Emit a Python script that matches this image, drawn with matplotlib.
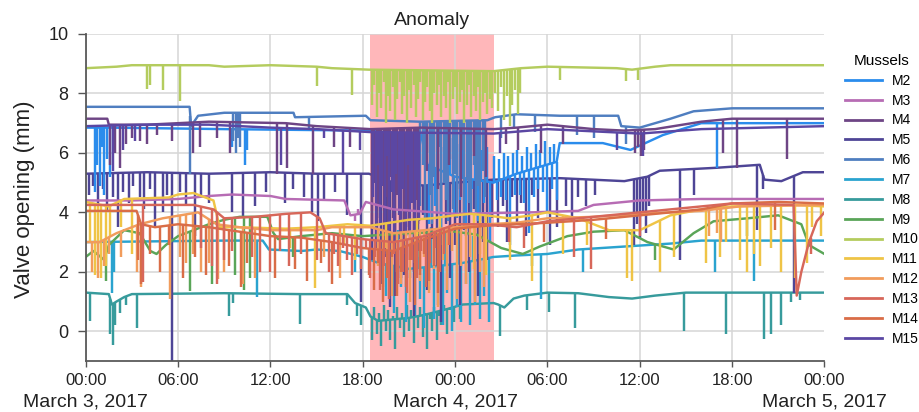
import numpy as np
import matplotlib
matplotlib.use("Agg")
import matplotlib.pyplot as plt
from matplotlib.lines import Line2D
from matplotlib.transforms import blended_transform_factory

plt.rcParams['font.family'] = ['Liberation Sans', 'DejaVu Sans']

# hours since March 3, 2017 00:00 -> valve opening (mm)
# "line" = slowly varying trace, "dips" = short closures / excursions (hour, value)
m2_line = [(0, 6.85), (1.6, 6.85), (9, 6.8), (18.3, 6.75), (21.8, 6.6), (22.2, 5.6), (24, 5.2),
           (26.5, 5.0), (28, 5.3), (30.6, 5.7), (30.8, 6.33), (33.6, 6.33), (35.4, 6.1),
           (37.5, 6.6), (40, 7.0), (48, 7.0)]
m2_dips = [(0.6, 4.7), (0.75, 5.6), (0.9, 4.9), (1.05, 6.2), (1.2, 4.6), (1.4, 5.8), (1.55, 5.2),
           (9.5, 6.2), (10.35, 5.6), (10.5, 6.1),
           (22.3, 3.6), (22.5, 6.4), (22.7, 4.2), (22.9, 6.6), (23.1, 3.4), (23.3, 6.2), (23.5, 4.6),
           (23.7, 6.5), (23.9, 3.9), (24.1, 6.3), (24.3, 4.4), (24.5, 6.6), (24.7, 3.2), (24.9, 6.0),
           (25.1, 4.8), (25.3, 6.4), (25.5, 3.7), (25.7, 6.1), (25.9, 4.3), (26.1, 6.2), (26.3, 3.0),
           (26.5, 5.9), (26.7, 4.4), (26.85, 5.8), (27.0, 4.5), (27.15, 6.0), (27.3, 4.4), (27.45, 5.9),
           (27.6, 2.9), (27.75, 6.0), (27.9, 4.6), (28.05, 6.1), (28.2, 4.6), (28.35, 5.9), (28.5, 4.3),
           (28.65, 6.2), (28.8, 3.3), (28.95, 6.0), (29.1, 4.5), (29.25, 6.3), (29.4, 4.8), (29.55, 6.1),
           (29.7, 4.7), (29.85, 6.4), (30.0, 4.0), (30.15, 6.2), (30.3, 4.8), (30.45, 6.3), (30.6, 4.4),
           (41.0, 5.5)]

m3_line = [(0, 4.4), (3, 4.4), (6, 4.45), (8, 4.55), (9.5, 4.6), (12, 4.55), (13, 4.45), (16.8, 4.4),
           (17.2, 3.9), (17.8, 3.95), (18.2, 4.35), (20, 4.1), (24, 3.95), (29, 4.0), (32, 4.05),
           (33, 4.25), (36, 4.4), (40, 4.45), (48, 4.45)]
m3_dips = [(17.5, 3.7), (17.7, 4.1)]

m4_line = [(0, 7.15), (1.4, 7.15), (1.5, 6.95), (4, 6.95), (8, 7.05), (13, 7.0), (15, 6.9),
           (18.5, 6.8), (21.8, 6.85), (26.5, 6.8), (28, 6.85), (30, 6.95), (33, 6.8), (35, 6.75),
           (37, 6.8), (40, 7.05), (42, 7.15), (48, 7.15)]
m4_dips = [(1.6, 5.6), (1.9, 6.0), (2.2, 5.5), (2.6, 6.3), (3.0, 6.5), (3.5, 6.4), (4.0, 6.3),
           (4.6, 6.6), (5.6, 6.4), (7.0, 6.0), (7.4, 6.2), (8.5, 6.5), (9.4, 6.0), (12.4, 5.3),
           (13.1, 5.5), (14.8, 5.3), (16.1, 6.2), (17.2, 6.2),
           (18.6, 3.5), (18.75, 5.0), (18.9, 2.8), (19.05, 4.2), (19.2, 6.0), (19.35, 3.0), (19.5, 4.5),
           (19.65, 2.2), (19.8, 5.2), (19.95, 3.8), (20.1, 1.2), (20.25, 4.6), (20.4, 3.1), (20.55, 5.5),
           (20.7, 2.6), (20.85, 4.0), (21.0, 3.3), (21.15, 5.8), (21.3, 2.0), (21.45, 4.4), (21.6, 3.6),
           (22.2, 5.4), (22.9, 4.8), (23.6, 5.6), (24.4, 4.5), (25.2, 5.9), (26.0, 5.2),
           (27.3, 6.3), (28.1, 6.1), (29.6, 6.0), (31.0, 6.3), (35.7, 6.0), (35.9, 6.2), (36.1, 5.9),
           (36.3, 6.1), (41.4, 6.0), (42.3, 5.5), (45.6, 5.8)]

m5_line = [(0, 5.3), (4, 5.35), (8, 5.3), (12, 5.35), (15, 5.3), (18.4, 5.3), (20, 5.0), (22, 4.9),
           (24, 5.0), (26.5, 5.1), (30.8, 5.15), (35, 5.05), (36.5, 5.2), (37.3, 5.4), (41, 5.5),
           (43.8, 5.6), (44.1, 5.1), (45.2, 5.05), (46.6, 5.35), (48, 5.35)]
m5_dips = [(0.2, 4.6), (0.5, 4.9), (0.8, 4.2), (1.1, 4.8), (1.4, 4.0), (1.8, 4.5), (2.1, 3.5),
           (2.4, 4.7), (2.8, 4.3), (3.1, 4.9), (3.5, 4.5), (3.8, 4.1), (4.2, 4.8), (4.5, 3.5), (5.0, 4.0),
           (5.3, 4.6), (5.6, -1.2), (6.1, 4.7), (6.5, 4.2), (7.1, 3.2), (7.5, 4.6), (8.0, 4.3), (9.5, 4.0),
           (10.2, 3.8), (11.0, 4.2), (11.7, 4.7), (12.95, 4.3), (13.5, 4.8), (14.2, 4.5), (14.7, 4.0),
           (15.1, 3.7), (15.5, 4.4), (16.2, 4.7), (17.0, 3.9), (17.9, 1.0),
           (18.6, 2.4), (18.9, 3.8), (19.2, 1.6), (19.5, 3.3), (19.8, 0.8), (20.1, 2.9), (20.4, 4.0),
           (20.7, 1.9), (21.0, 3.5), (21.3, 0.5), (21.6, 2.7), (21.9, 3.9), (22.2, 1.4), (22.5, 3.1),
           (22.8, 2.2), (23.1, 0.3), (23.4, 3.6), (23.7, 1.8), (24.0, 2.9), (24.3, 0.9), (24.6, 3.4),
           (24.9, 2.0), (25.2, 4.1), (25.5, 1.2), (25.8, 3.0), (26.1, 2.4), (26.4, 3.8),
           (26.8, 3.5), (27.1, 4.2), (27.4, 3.0), (27.7, 4.5), (28.0, 3.6), (28.3, 4.3), (28.6, 3.2),
           (29.0, 4.6), (29.4, 3.8), (30.2, 2.9), (30.6, 3.5), (31.2, 4.2), (31.6, 3.8), (32.0, 4.5),
           (32.5, 4.2), (33.1, 4.6), (35.6, 2.9), (35.8, 3.6), (36.0, 3.1), (36.2, 3.9), (36.4, 3.3),
           (36.6, 4.2), (38.6, 2.4), (39.5, 4.6), (43.6, 3.4), (44.0, 4.8), (46.0, 1.3)]

m6_line = [(0, 7.55), (6.75, 7.55), (6.85, 6.9), (7.3, 7.25), (9, 7.35), (13.5, 7.35), (13.6, 7.2),
           (18.2, 7.25), (18.5, 7.1), (21.7, 7.05), (26.1, 7.1), (26.6, 7.2), (28, 7.3), (30.8, 7.25),
           (34.6, 7.25), (34.8, 6.9), (36, 6.85), (38, 7.15), (39.5, 7.4), (42, 7.5), (48, 7.5)]
m6_dips = [(6.8, 5.3), (9.6, 6.4), (9.75, 6.0), (9.9, 6.5), (10.05, 6.2), (14.5, 6.8),
           (21.75, 4.2), (21.9, 5.6), (22.05, 3.8), (22.2, 6.0), (22.35, 4.6), (22.5, 3.6), (22.65, 5.2),
           (22.8, 4.0), (22.95, 6.2), (23.1, 3.9), (23.25, 5.0), (23.4, 4.4), (23.55, 3.7), (23.7, 5.8),
           (23.85, 4.1), (24.0, 5.3), (24.15, 3.8), (24.3, 4.8), (24.45, 6.1), (24.6, 3.6), (24.75, 5.1),
           (24.9, 4.3), (25.05, 3.9), (25.2, 5.6), (25.35, 4.0), (25.5, 4.9), (25.65, 3.7), (25.8, 5.4),
           (25.95, 4.5),
           (27.0, 6.5), (27.8, 6.8), (29.2, 6.7), (31.9, 6.6), (33.0, 6.5), (35.1, 6.3)]

m7_line = [(0, 3.0), (9, 3.05), (11.5, 3.05), (11.9, 2.75), (14, 2.7), (15, 2.75), (16.5, 2.7),
           (18, 2.5), (19, 2.3), (21, 2.1), (23, 2.2), (24.5, 2.3), (26.5, 2.5), (28, 2.55), (30, 2.6),
           (32, 2.75), (35, 2.85), (38, 2.95), (40, 3.05), (48, 3.05)]
m7_dips = [(1.7, 1.3), (1.85, 2.0), (11.1, 1.15), (17.5, 2.0),
           (19.5, 1.2), (20.0, 0.6), (20.3, 3.4), (20.5, 1.5), (20.8, 0.3), (21.1, 1.8), (21.4, 0.5),
           (21.6, 3.2), (21.7, 1.1), (22.0, 0.1), (22.3, 1.4), (22.45, 3.5), (22.6, 0.4), (22.9, 0.9),
           (23.2, 0.2), (23.35, 3.3), (23.5, 1.3), (23.8, 0.0), (24.1, 0.8), (24.25, 3.6), (24.4, 0.3),
           (24.7, 1.6), (25.0, 0.2), (25.15, 3.2), (25.3, 0.9), (25.6, 0.4), (25.9, 1.2), (26.2, 0.3),
           (29.6, 1.1), (32.3, 2.0), (40.9, 2.0), (43.4, 1.7)]

m8_line = [(0, 1.3), (1.5, 1.25), (1.7, 0.9), (2.0, 1.0), (2.5, 1.15), (3.0, 1.25), (9, 1.28),
           (14, 1.25), (17, 1.25), (17.5, 0.95), (18.2, 0.8), (18.5, 0.5), (19, 0.35), (21, 0.45),
           (22, 0.55), (23.5, 0.75), (24.5, 0.9), (26.5, 0.95), (26.8, 0.9), (27.2, 0.8), (27.8, 1.1),
           (28.5, 1.2), (30, 1.3), (32, 1.28), (34, 1.15), (35.5, 1.1), (37, 1.2), (39, 1.3), (48, 1.3)]
m8_dips = [(0.3, 0.35), (1.6, -0.1), (1.75, -0.45), (1.9, 0.2), (2.2, 0.6), (2.6, 0.9), (3.3, 0.1),
           (9.3, 0.5), (9.6, 0.95), (13.9, 0.25), (17.0, 0.9), (17.6, 0.5), (17.9, 0.2),
           (18.6, -0.3), (18.75, 0.8), (18.9, -0.1), (19.05, 0.6), (19.2, -0.5), (19.35, 0.9),
           (19.5, 0.0), (19.65, 0.7), (19.8, -0.3), (19.95, 0.5), (20.1, -0.6), (20.25, 0.8),
           (20.4, 0.1), (20.55, 0.6), (20.7, -0.2), (20.85, 0.9), (21.0, 0.0), (21.15, 0.7),
           (21.3, -0.4), (21.45, 0.5), (21.6, 0.1), (21.75, 0.8), (21.9, -0.2), (22.05, 0.6),
           (22.2, -0.6), (22.35, 0.4), (22.5, 0.0), (22.65, 0.8), (22.8, -0.3), (22.95, 0.5),
           (23.1, 0.2), (23.3, 0.9), (23.5, -0.1), (23.7, 0.7), (23.9, 0.3), (24.1, 0.9), (24.3, 0.4),
           (26.9, -0.15), (28.7, 0.7), (30.1, 0.65), (31.8, 0.1), (38.9, 0.0), (41.6, -0.1),
           (44.1, -0.25), (44.5, -0.1), (45.2, 0.2), (45.8, 1.0), (46.4, 1.05)]

m9_line = [(0, 2.5), (0.5, 2.7), (1.2, 2.4), (1.5, 2.9), (2.5, 3.4), (3.5, 3.3), (4.2, 2.7),
           (4.6, 2.6), (5.2, 2.9), (6, 3.2), (7, 3.4), (8, 3.6), (9, 3.75), (10, 3.85), (11.8, 3.85),
           (12.2, 3.3), (12.5, 3.1), (14, 3.2), (16, 3.3), (18, 3.2), (21, 3.3), (24, 3.35),
           (25.4, 3.25), (27, 2.8), (28.4, 2.6), (29.5, 2.85), (31.3, 3.2), (33, 3.35), (35, 3.4),
           (36.5, 3.0), (38.2, 2.75), (39.5, 3.3), (40.8, 3.7), (43, 3.8), (45, 3.9), (46.5, 3.6),
           (47, 2.9), (48, 2.6)]
m9_dips = [(1.3, 1.7), (6.8, 1.35), (8.2, 1.6), (9.7, 1.9), (10.3, 1.4), (10.7, 1.8), (13.5, 2.5),
           (29.0, 2.2), (37.0, 2.4), (43.0, 3.2)]

m10_line = [(0, 8.85), (2, 8.9), (3, 8.95), (8, 8.95), (9, 8.9), (12, 8.95), (15, 8.9), (16, 8.85),
            (18.4, 8.8), (26.5, 8.75), (28.3, 8.85), (30, 8.9), (34.5, 8.85), (35.5, 8.8), (37, 8.9),
            (38, 8.95), (48, 8.95)]
m10_dips = [(4.0, 8.15), (4.15, 8.3), (5.0, 8.1), (6.1, 7.75), (15.0, 8.25), (17.3, 7.95),
            (18.6, 7.6), (18.75, 8.3), (18.9, 7.2), (19.05, 8.0), (19.2, 7.5), (19.35, 8.4), (19.5, 7.0),
            (19.65, 7.9), (19.8, 7.4), (19.95, 8.2), (20.1, 7.1), (20.25, 7.8), (20.4, 8.4), (20.55, 7.3),
            (20.7, 7.9), (20.85, 7.0), (21.0, 8.1), (21.15, 7.5), (21.3, 8.3), (21.45, 7.2), (21.6, 7.8),
            (21.75, 8.4), (21.9, 7.1), (22.05, 7.7), (22.2, 8.2), (22.35, 7.4), (22.5, 7.0), (22.65, 8.0),
            (22.8, 7.6), (22.95, 8.3), (23.1, 7.2), (23.25, 7.9), (23.4, 7.5), (23.55, 8.4), (23.7, 7.0),
            (23.85, 7.8), (24.0, 8.2), (24.15, 7.3), (24.3, 7.7), (24.45, 8.1), (24.6, 7.0), (24.75, 7.6),
            (24.9, 8.3), (25.05, 7.2), (25.2, 7.9), (25.35, 7.4), (25.5, 8.2), (25.65, 7.1), (25.8, 7.7),
            (25.95, 8.0), (26.1, 7.3), (26.25, 7.8), (26.4, 7.5),
            (26.6, 8.0), (26.8, 7.4), (27.0, 8.2), (27.2, 7.1), (27.4, 7.9), (27.55, 6.9), (27.7, 7.6),
            (27.9, 8.1), (28.1, 7.3), (28.25, 8.0), (30.8, 8.45), (35.1, 8.42), (35.9, 8.45)]

m11_line = [(0, 4.35), (0.5, 4.3), (1.5, 4.2), (2.5, 4.45), (5.4, 4.5), (6, 4.6), (7, 4.65),
            (8.3, 4.4), (8.7, 3.5), (10, 3.5), (13, 3.45), (15, 3.5), (17, 3.6), (18.5, 3.55),
            (21, 3.75), (22.5, 3.8), (24, 3.9), (25, 3.95), (26, 3.9), (27.5, 3.8), (29, 3.9), (30, 4.0),
            (32, 3.8), (34, 3.4), (36, 3.4), (38, 3.9), (40, 4.1), (42, 4.2), (46, 4.25), (48, 4.2)]
m11_dips = [(0.3, 3.0), (0.6, 1.9), (0.8, 2.6), (1.0, 1.8), (1.3, 2.2), (1.6, 3.2), (2.3, 3.5),
            (3.0, 2.6), (13.3, 2.8), (14.9, 1.45), (16.8, 2.9), (17.5, 2.4),
            (19.5, 2.8), (21.5, 2.5), (23.0, 2.9), (25.2, 2.1), (25.6, 2.6), (26.0, 1.9),
            (27.6, 2.4), (29.0, 1.7), (31.0, 2.6), (32.6, 2.9), (35.2, 1.8), (35.5, 1.7), (37.3, 2.0),
            (38.2, 2.5), (40.3, 2.3), (41.2, 2.5), (41.6, 3.0), (42.5, 2.4), (43.0, 2.0), (43.4, 2.6),
            (43.8, 2.2), (44.5, 2.8), (45.2, 2.0), (46.1, 1.8), (46.9, 2.3), (47.2, 3.5), (47.8, 3.2)]

m12_line = [(0, 3.0), (0.9, 3.0), (2, 3.3), (3.5, 3.6), (5, 3.8), (7.3, 4.0), (8.5, 3.6), (10, 3.5),
            (12, 3.4), (15, 3.4), (16, 3.5), (18.5, 3.5), (20, 3.3), (22, 3.4), (24, 3.5), (26, 3.6),
            (28, 3.65), (30, 3.8), (33, 3.85), (36, 3.95), (40, 4.05), (42.5, 4.2), (48, 4.25)]
m12_dips = [(0.4, 2.0), (0.8, 1.8), (1.2, 2.2), (1.5, 2.6), (2.3, 2.5), (3.3, 2.0), (3.6, 1.5),
            (5.5, 1.1), (6.1, 2.5), (6.5, 2.3), (7.0, 2.6), (7.5, 2.0), (8.0, 2.3), (8.6, 1.75),
            (9.0, 2.0), (10.2, 1.6), (11.0, 1.8), (15.5, 2.5), (16.5, 1.8),
            (19.0, 2.2), (19.3, 1.5), (19.6, 2.6), (19.9, 1.2), (20.2, 2.0), (20.5, 1.6), (20.8, 2.8),
            (21.1, 1.0), (21.4, 2.3), (21.7, 1.7), (22.0, 2.5), (22.3, 1.3), (22.6, 2.1), (22.9, 0.8),
            (23.2, 2.4), (23.5, 1.4), (23.8, 2.7), (24.1, 1.1), (24.4, 2.2), (24.7, 1.6), (25.0, 2.5),
            (25.3, 1.0), (25.6, 2.0), (25.9, 1.5),
            (40.5, 3.2), (41.0, 3.3), (41.3, 3.0)]

m13_line = [(0, 4.25), (3, 4.25), (7, 4.25), (8.3, 4.1), (9, 3.8), (11, 3.85), (13, 3.95),
            (14.6, 4.0), (15.2, 3.8), (15.6, 3.3), (18, 3.1), (20, 3.0), (22, 3.2), (24, 3.6),
            (26, 3.6), (28, 3.5), (30, 3.7), (33, 3.85), (36, 4.0), (39, 4.15), (42, 4.3), (46, 4.25),
            (46.2, 1.2), (46.5, 2.0), (47.0, 3.0), (47.5, 3.7), (48, 4.0)]
m13_dips = [(3.7, 1.65), (7.5, 2.8), (8.2, 2.2), (8.5, 1.6), (9.0, 2.4), (9.5, 2.7), (10.8, 2.5),
            (11.3, 2.0), (12.0, 2.0), (12.6, 2.7), (13.2, 2.2), (14.0, 2.6), (15.0, 2.4), (15.8, 2.0),
            (16.1, 2.6), (16.4, 2.2), (16.7, 2.8), (17.0, 2.4), (17.3, 1.9), (17.6, 2.6), (17.9, 2.1),
            (18.2, 2.8),
            (18.5, 1.8), (18.8, 2.5), (19.1, 1.4), (19.4, 2.2), (19.7, 1.1), (20.0, 2.6), (20.3, 1.6),
            (20.6, 2.0), (20.9, 1.3), (21.2, 2.4), (21.5, 1.8), (21.8, 2.7), (22.1, 1.5), (22.4, 2.3),
            (22.7, 2.8), (23.0, 2.0), (23.3, 2.6), (23.6, 2.9),
            (27.5, 3.0), (28.5, 2.8), (31.7, 2.5), (32.8, 2.1), (36.0, 3.2), (47.1, 2.6)]

m14_line = [(0, 4.05), (3.3, 4.05), (3.6, 3.6), (4.5, 3.5), (6, 3.6), (8, 3.5), (10, 3.35),
            (12, 3.2), (14, 3.15), (16, 3.0), (18, 2.8), (20, 2.7), (22, 3.1), (24, 3.45), (26, 3.55),
            (28, 3.6), (30, 3.65), (33, 3.75), (36, 3.9), (40, 4.1), (42, 4.3), (45, 4.35), (48, 4.3)]
m14_dips = [(3.4, 2.4), (3.6, 1.6), (4.2, 2.6), (4.8, 2.0), (5.4, 2.9), (6.3, 1.8), (7.1, 2.5),
            (7.8, 1.9), (9.3, 2.2), (10.1, 1.5), (10.5, 2.3), (12.3, 1.8), (13.6, 2.1), (14.4, 1.7),
            (15.3, 2.3), (16.0, 1.6),
            (18.4, 1.9), (18.7, 1.4), (19.0, 2.3), (19.3, 1.0), (19.6, 1.8), (19.9, 2.5), (20.2, 1.2),
            (20.5, 2.0), (20.8, 1.5), (21.1, 2.4), (21.4, 0.9), (21.7, 1.9), (22.0, 2.6), (22.3, 1.7),
            (22.6, 2.2), (22.9, 1.3),
            (29.8, 3.0), (33.8, 3.1), (44.8, 3.4)]

m15_line = [(0, 6.9), (4, 6.95), (8, 6.95), (12, 6.85), (15, 6.8), (18.5, 6.7), (26.5, 6.65),
            (30, 6.8), (34, 6.7), (36, 6.65), (40, 6.8), (48, 6.9)]
m15_dips = [(1.75, 5.4), (2.4, 6.1), (3.2, 6.4), (12.7, 5.6), (15.5, 6.5), (16.7, 5.3), (17.8, 6.1),
            (18.68, 4.5), (18.83, 2.9), (18.98, 5.6), (19.13, 3.6), (19.28, 4.9), (19.43, 2.5),
            (19.58, 5.9), (19.73, 3.4), (19.88, 4.7), (20.03, 2.8), (20.18, 5.3), (20.33, 3.9),
            (20.48, 1.8), (20.63, 4.8), (20.78, 3.2), (20.93, 5.6), (21.08, 2.4), (21.23, 4.3),
            (21.38, 3.0), (21.53, 5.1), (21.68, 3.7),
            (26.9, 6.0), (34.5, 6.1), (36.2, 5.9)]

anomaly = (18.5, 26.5)
hour_ticks = [0, 6, 12, 18, 24, 30, 36, 42, 48]
hour_labels = ["00:00", "06:00", "12:00", "18:00", "00:00", "06:00", "12:00", "18:00", "00:00"]
day_ticks = [0, 24, 48]
day_labels = ["March 3, 2017", "March 4, 2017", "March 5, 2017"]

colors = {
    "M2": "#2a8cec", "M3": "#b76cb4", "M4": "#6e4585", "M5": "#4e4596", "M6": "#4f7ec0",
    "M7": "#2aa3cf", "M8": "#379b9c", "M9": "#5aa558", "M10": "#b4cc5e", "M11": "#efc446",
    "M12": "#f19c5c", "M13": "#d7675a", "M14": "#d96d47", "M15": "#5b47a3",
}
series = [("M2", m2_line, m2_dips), ("M3", m3_line, m3_dips), ("M4", m4_line, m4_dips),
          ("M5", m5_line, m5_dips), ("M6", m6_line, m6_dips), ("M7", m7_line, m7_dips),
          ("M8", m8_line, m8_dips), ("M9", m9_line, m9_dips), ("M10", m10_line, m10_dips),
          ("M11", m11_line, m11_dips), ("M12", m12_line, m12_dips), ("M13", m13_line, m13_dips),
          ("M14", m14_line, m14_dips), ("M15", m15_line, m15_dips)]
# back to front
draw_order = ["M8", "M7", "M5", "M2", "M6", "M4", "M15", "M3", "M9", "M11", "M12", "M14", "M13", "M10"]

LW = 1.75

fig = plt.figure(figsize=(9.2, 4.12), dpi=100)
ax = fig.add_axes([0.0932, 0.1238, 0.8029, 0.7937])

ax.axvspan(anomaly[0], anomaly[1], color="#ffb7ba", lw=0, zorder=0.2)

lookup = {name: (line, dips) for name, line, dips in series}
for name in draw_order:
    line, dips = lookup[name]
    h = [p[0] for p in line]
    v = [p[1] for p in line]
    ax.plot(h, v, color=colors[name], lw=LW, zorder=2)
    dh = [d[0] for d in dips]
    dv = [d[1] for d in dips]
    top = np.interp(dh, h, v)
    ax.vlines(dh, top, dv, color=colors[name], lw=LW, zorder=2)

ax.set_xlim(0, 48)
ax.set_ylim(-1, 10)
ax.set_xticks(hour_ticks)
ax.set_xticklabels(hour_labels)
ax.set_yticks([0, 2, 4, 6, 8, 10])
ax.tick_params(axis="x", labelsize=12, length=4.5, width=1, pad=4, colors="#555555", labelcolor="#222222")
ax.tick_params(axis="y", labelsize=13, length=5.5, width=1, pad=7, colors="#555555", labelcolor="#222222")

ax.set_axisbelow(True)
ax.grid(True, color="#d6d6d6", lw=1.1)
ax.xaxis.get_gridlines()[-1].set_visible(False)
for side in ["top", "right"]:
    ax.spines[side].set_visible(False)
for side in ["left", "bottom"]:
    ax.spines[side].set_color("#5a5a5a")
    ax.spines[side].set_linewidth(1.3)

trans = blended_transform_factory(ax.transData, ax.transAxes)
for t, lab in zip(day_ticks, day_labels):
    ax.text(t, -0.125, lab, transform=trans, ha="center", va="center", fontsize=14, color="#222222")
ax.text(sum(anomaly) / 2, 1.04, "Anomaly", transform=trans, ha="center", va="center",
        fontsize=14, color="#222222")

fig.text(25 / 920, 1 - 199 / 412, "Valve opening (mm)", rotation=90, ha="center", va="center",
         fontsize=16, color="#222222")

handles = [Line2D([], [], color=colors[name], lw=2) for name, _, _ in series]
leg = fig.legend(handles, [name for name, _, _ in series], loc="upper left",
                 bbox_to_anchor=(845 / 920, 1 - 54 / 412), frameon=False, fontsize=10,
                 title="Mussels", title_fontsize=11, handlelength=2.7, handletextpad=0.7,
                 labelspacing=0.42, borderpad=0, borderaxespad=0)

fig.savefig("out.png", dpi=100)
